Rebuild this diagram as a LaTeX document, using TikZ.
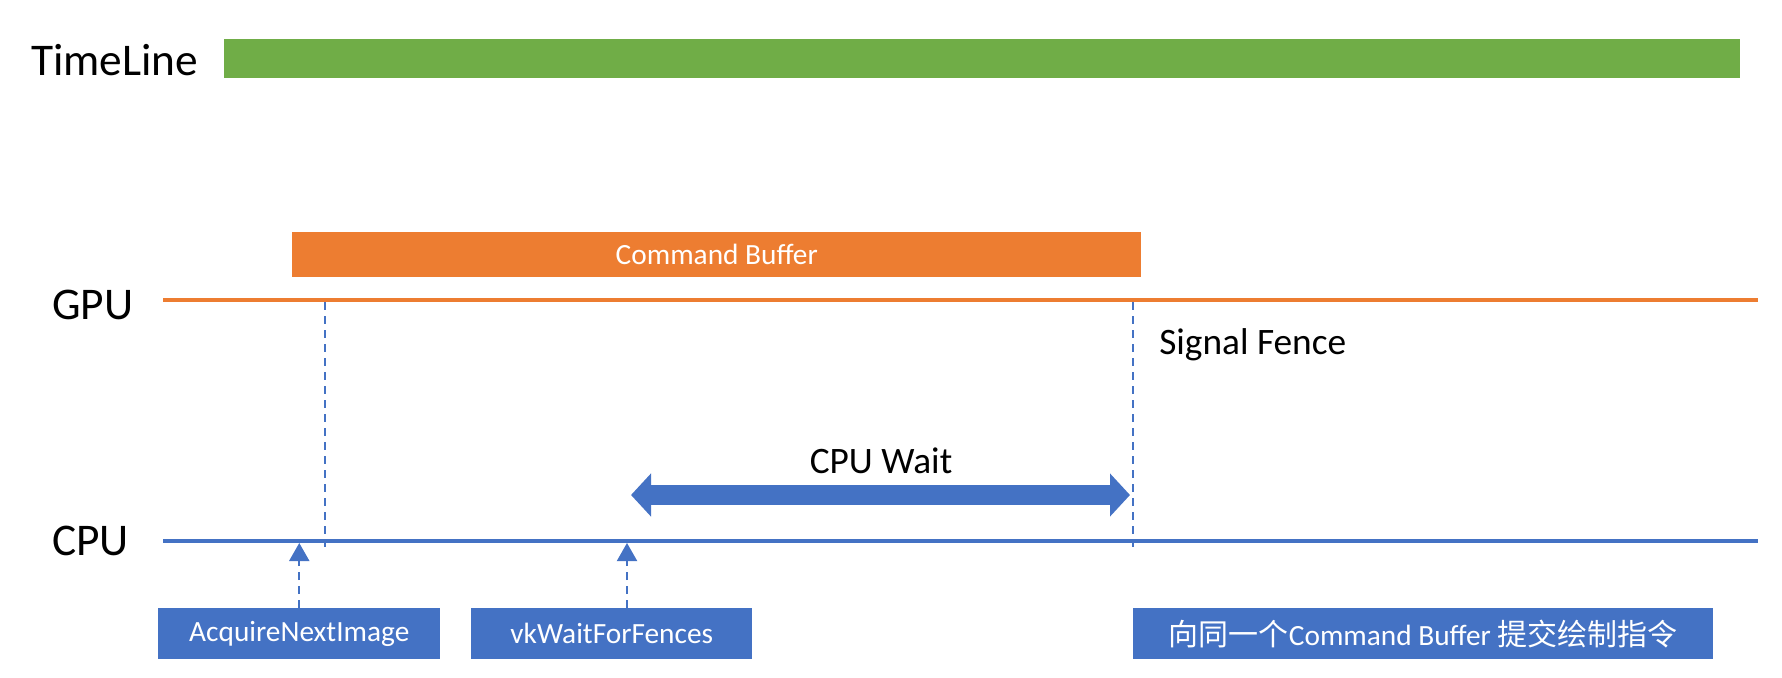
\documentclass[tikz,border=0pt]{standalone}
\usepackage{fontspec}
\setmainfont{Carlito}
\newfontfamily\cjk{Noto Sans CJK SC}
\usetikzlibrary{arrows.meta}
\definecolor{tlgreen}{HTML}{70AD47}
\definecolor{gorange}{HTML}{ED7D31}
\definecolor{cblue}{HTML}{4472C4}
\tikzset{
  lbl/.style={inner sep=0pt, text=black},
  big/.style={font=\fontsize{34}{40}\selectfont},
  mid/.style={font=\fontsize{28}{34}\selectfont},
  bluebox/.style={fill=cblue, text=white, inner sep=0pt, anchor=north west,
    minimum height=51*0.75pt, font=\fontsize{22}{26}\selectfont},
  lane/.style={line width=2.6pt},
  vdash/.style={draw=cblue, line width=1.5pt, dash pattern=on 6pt off 4.5pt},
}
\begin{document}
\begin{tikzpicture}[x=0.75pt,y=-0.75pt]
\useasboundingbox (0,0) rectangle (1782,678);
% timeline
\node[lbl, big, anchor=west] (tl) at (31,60) {TimeLine};
\node[fill=tlgreen, inner sep=0pt, anchor=north west, minimum width=1516*0.75pt, minimum height=39*0.75pt] (bar) at (224,39) {};
% command buffer
\node[fill=gorange, text=white, inner sep=0pt, anchor=north west, minimum width=849*0.75pt, minimum height=45*0.75pt, font=\fontsize{22}{26}\selectfont] (cb) at (292,232) {Command Buffer};
% lanes
\node[lbl, big, anchor=west] (gpu) at (52,305) {GPU};
\node[lbl, big, anchor=west] (cpu) at (52,541) {CPU};
\coordinate (gpuL) at (163,300);
\coordinate (gpuR) at (1758,300);
\coordinate (cpuL) at (163,541);
\coordinate (cpuR) at (1758,541);
\draw[lane, draw=gorange] (gpuL) -- (gpuR);
\draw[lane, draw=cblue] (cpuL) -- (cpuR);
% dashed verticals
\coordinate (d1t) at (325,302);
\coordinate (d1b) at (325,547);
\coordinate (d2t) at (1133,302);
\coordinate (d2b) at (1133,547);
\draw[vdash] (d1t) -- (d1b);
\draw[vdash] (d2t) -- (d2b);
% labels
\node[lbl, mid, anchor=west] (sf) at (1159,345) {Signal Fence};
\node[lbl, mid] (cw) at (881,461) {CPU Wait};
% wait arrow
\coordinate (wL) at (631,495);
\coordinate (wR) at (1130,495);
\draw[draw=cblue, line width=15pt, {Triangle[length=15pt,width=31.5pt]}-{Triangle[length=15pt,width=31.5pt]}] (wL) -- (wR);
% bottom boxes
\node[bluebox, minimum width=282*0.75pt] (acq) at (158,608) {\raisebox{-1pt}{AcquireNextImage}};
\node[bluebox, minimum width=281*0.75pt] (vkw) at (471,608) {\raisebox{-1pt}{vkWaitForFences}};
\node[bluebox, minimum width=580*0.75pt] (sub) at (1133,608) {\raisebox{-1pt}{{\cjk\fontsize{22.5}{26}\selectfont 向同一个}Command Buffer {\cjk\fontsize{22.5}{26}\selectfont 提交绘制指令}}};
% up arrows
\coordinate (a1) at (acq.north |- 0,543);
\coordinate (a2) at (627,543);
\draw[vdash, -{Triangle[length=13.5pt,width=15pt]}] (acq.north) -- (a1);
\draw[vdash, -{Triangle[length=13.5pt,width=15pt]}] (vkw.north -| a2) -- (a2);
\end{tikzpicture}
\end{document}
